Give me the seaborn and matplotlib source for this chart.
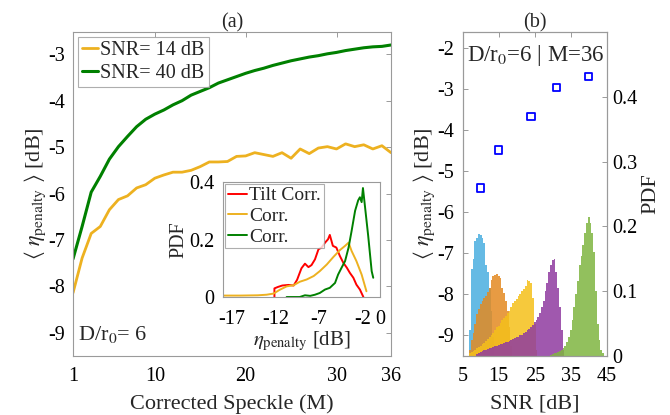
import numpy as np
import pandas as pd
import matplotlib
matplotlib.use("Agg")
import matplotlib.pyplot as plt
import seaborn as sns

# ---------------- data ----------------
M = list(range(1, 37))
eta_snr14 = [-8.14, -7.39, -6.86, -6.71, -6.35, -6.13, -6.05, -5.88, -5.81, -5.67,
             -5.60, -5.54, -5.54, -5.50, -5.42, -5.32, -5.32, -5.31, -5.20, -5.19,
             -5.12, -5.16, -5.20, -5.12, -5.24, -5.04, -5.14, -5.02, -4.99, -5.04,
             -4.93, -4.99, -4.95, -5.04, -4.97, -5.12]
eta_snr40 = [-7.41, -6.71, -5.97, -5.63, -5.26, -4.99, -4.77, -4.56, -4.40, -4.29,
             -4.20, -4.09, -4.00, -3.88, -3.80, -3.72, -3.62, -3.55, -3.48, -3.41,
             -3.35, -3.30, -3.24, -3.19, -3.14, -3.10, -3.06, -3.03, -2.99, -2.96,
             -2.92, -2.89, -2.86, -2.84, -2.83, -2.80]

# inset PDFs
tilt_x = [-12.1, -12.1, -11.7, -11.2, -10.5, -9.9, -9.5, -9.0, -8.6, -8.2, -7.85, -7.45,
          -7.05, -6.7, -6.3, -5.95, -5.75, -5.4, -5.0, -4.6, -4.2, -3.8, -3.45, -3.05,
          -2.7, -2.3, -1.9]
tilt_y = [0.0, 0.03, 0.035, 0.04, 0.042, 0.04, 0.06, 0.10, 0.116, 0.104, 0.111, 0.131,
          0.166, 0.172, 0.189, 0.201, 0.216, 0.178, 0.172, 0.143, 0.119, 0.102, 0.084,
          0.067, 0.043, 0.026, 0.0]
corr14_x = [-18.0, -16.0, -14.0, -13.0, -12.2, -11.5, -10.7, -9.9, -9.2, -8.4, -7.6, -6.9,
            -6.1, -5.35, -4.6, -4.0, -3.6, -3.25, -2.7, -2.1, -1.55]
corr14_y = [0.005, 0.005, 0.006, 0.008, 0.012, 0.025, 0.037, 0.041, 0.053, 0.061, 0.073,
            0.09, 0.113, 0.139, 0.163, 0.178, 0.189, 0.16, 0.125, 0.078, 0.02]
corr40_x = [-10.7, -9.2, -8.6, -8.0, -7.45, -6.9, -6.3, -5.75, -5.15, -4.8, -4.4, -4.0,
            -3.6, -3.25, -2.85, -2.5, -2.3, -2.1, -1.95, -1.75, -1.35, -0.95, -0.77]
corr40_y = [0.0, 0.0, 0.006, 0.004, 0.008, 0.014, 0.026, 0.032, 0.049, 0.078, 0.102, 0.125,
            0.172, 0.23, 0.30, 0.336, 0.347, 0.33, 0.379, 0.324, 0.213, 0.09, 0.067]

# panel (b)
snr_pts = [10, 15, 24, 31, 40]
eta_pts = [-5.40, -4.48, -3.66, -2.96, -2.69]

blue_c = [7.0, 7.5, 8.0, 8.5, 9.0, 9.5, 10.0, 10.5, 11.0, 11.5, 12.0, 12.5, 13.0, 13.5]
blue_h = [0.04, 0.135, 0.15, 0.178, 0.182, 0.188, 0.186, 0.182, 0.175, 0.14, 0.13, 0.105,
          0.07, 0.03]
orange_c = [7.0, 7.5, 8.0, 8.5, 9.0, 9.5, 10.0, 10.5, 11.0, 11.5, 12.0, 12.5, 13.0, 13.5,
            14.0, 14.5, 15.0, 15.5, 16.0, 16.5, 17.0, 17.5, 18.0, 18.5]
orange_h = [0.01, 0.025, 0.035, 0.05, 0.065, 0.072, 0.08, 0.085, 0.09, 0.093, 0.098, 0.105,
            0.117, 0.124, 0.125, 0.126, 0.124, 0.12, 0.105, 0.097, 0.085, 0.07, 0.045, 0.015]
yellow_c = [7.0, 7.5, 8.0, 8.5, 9.0, 9.5, 10.0, 10.5, 11.0, 11.5, 12.0, 12.5, 13.0, 13.5,
            14.0, 14.5, 15.0, 15.5, 16.0, 16.5, 17.0, 17.5, 18.0, 18.5, 19.0, 19.5, 20.0,
            20.5, 21.0, 21.5, 22.0, 22.5, 23.0, 23.5, 24.0, 24.5, 25.0, 25.5]
yellow_h = [0.004, 0.006, 0.008, 0.010, 0.012, 0.014, 0.016, 0.018, 0.020, 0.023, 0.026,
            0.029, 0.033, 0.036, 0.040, 0.044, 0.047, 0.051, 0.055, 0.059, 0.062, 0.066,
            0.070, 0.075, 0.082, 0.085, 0.088, 0.092, 0.096, 0.100, 0.104, 0.108, 0.118,
            0.115, 0.112, 0.090, 0.050, 0.010]
purple_c = [9.0, 9.5, 10.0, 10.5, 11.0, 11.5, 12.0, 12.5, 13.0, 13.5, 14.0, 14.5, 15.0,
            15.5, 16.0, 16.5, 17.0, 17.5, 18.0, 18.5, 19.0, 19.5, 20.0, 20.5, 21.0, 21.5,
            22.0, 22.5, 23.0, 23.5, 24.0, 24.5, 25.0, 25.5, 26.0, 26.5, 27.0, 27.5, 28.0,
            28.5, 29.0, 29.5, 30.0, 30.5, 31.0, 31.5, 32.0, 32.5, 33.0]
purple_h = [0.003, 0.004, 0.006, 0.007, 0.009, 0.010, 0.011, 0.012, 0.013, 0.014, 0.015,
            0.016, 0.017, 0.018, 0.019, 0.020, 0.021, 0.022, 0.023, 0.024, 0.026, 0.027,
            0.029, 0.030, 0.032, 0.033, 0.035, 0.037, 0.040, 0.042, 0.045, 0.048, 0.052,
            0.056, 0.060, 0.066, 0.075, 0.085, 0.100, 0.113, 0.130, 0.140, 0.148, 0.150,
            0.130, 0.105, 0.075, 0.040, 0.010]
green_c = [29.5, 30.0, 30.5, 31.0, 31.5, 32.0, 32.5, 33.0, 33.5, 34.0, 34.5, 35.0, 35.5,
           36.0, 36.5, 37.0, 37.5, 38.0, 38.5, 39.0, 39.5, 40.0, 40.5, 41.0, 41.5, 42.0,
           42.5, 43.0, 43.5, 44.0]
green_h = [0.002, 0.003, 0.004, 0.005, 0.006, 0.008, 0.010, 0.013, 0.016, 0.022, 0.030,
           0.040, 0.055, 0.075, 0.095, 0.115, 0.140, 0.155, 0.172, 0.190, 0.205, 0.215,
           0.205, 0.190, 0.160, 0.100, 0.050, 0.025, 0.010, 0.004]

# ---------------- style ----------------
sns.set_theme(style="white")
plt.rcParams['font.family'] = ['Liberation Serif', 'DejaVu Serif']
plt.rcParams['mathtext.fontset'] = 'stix'
FS = 14.5
SPINE = '#9a9a9a'
YEL = '#EDB120'
GRN = '#008000'

fig = plt.figure(figsize=(6.7, 4.15), dpi=100)

def style_axes(ax, top=True, right=True):
    for s in ax.spines.values():
        s.set_color(SPINE)
        s.set_linewidth(0.8)
    ax.tick_params(direction='in', length=3.5, width=0.7, color=SPINE,
                   labelsize=FS, labelcolor='black', top=top, right=right)
    ax.tick_params(axis='x', pad=8)
    ax.tick_params(axis='y', pad=6)

# ---------------- panel (a) ----------------
axA = fig.add_axes([0.109, 0.1422, 0.4746, 0.7807])
sns.lineplot(x=M, y=eta_snr14, ax=axA, color=YEL, lw=2.0, label='SNR= 14 dB')
sns.lineplot(x=M, y=eta_snr40, ax=axA, color=GRN, lw=2.2, label='SNR= 40 dB')
axA.set_xlim(1, 36)
axA.set_ylim(-9.5, -2.52)
axA.set_xticks([1, 10, 20, 30, 36])
axA.set_yticks([-9, -8, -7, -6, -5, -4, -3])
axA.set_yticklabels(['-9', '-8', '-7', '-6', '-5', '-4', '-3'])
style_axes(axA)
axA.set_xlabel('Corrected Speckle (M)', fontsize=FS + 1.5, labelpad=6)
axA.set_ylabel(r'$\langle\ \eta_{\mathrm{penalty}}\ \rangle$ [dB]', fontsize=FS + 1.5,
               labelpad=0)
axA.set_title('(a)', fontsize=FS, pad=3)
leg = axA.legend(loc='upper left', fontsize=FS, frameon=True, fancybox=False,
                 edgecolor=SPINE, handlelength=0.8, handletextpad=0.1,
                 borderpad=0.2, labelspacing=0.2, borderaxespad=0.25)
leg.get_frame().set_linewidth(0.8)
axA.text(0.015, 0.035, r'D/r$_0$= 6', transform=axA.transAxes, fontsize=FS + 1.5,
         ha='left', va='bottom')

# inset
axI = fig.add_axes([0.3328, 0.2843, 0.2343, 0.2771])
sns.lineplot(x=tilt_x, y=tilt_y, ax=axI, color='red', lw=1.4, estimator=None, sort=False,
             label='Tilt Corr.')
sns.lineplot(x=corr14_x, y=corr14_y, ax=axI, color=YEL, lw=1.4, estimator=None, sort=False,
             label='Corr.')
sns.lineplot(x=corr40_x, y=corr40_y, ax=axI, color=GRN, lw=1.4, estimator=None, sort=False,
             label='Corr.')
axI.set_xlim(-18, 0)
axI.set_ylim(0, 0.4)
axI.set_xticks([-17, -12, -7, -2, 0])
axI.set_xticklabels(['-17', '-12', '-7', '-2', '0'])
axI.set_yticks([0, 0.2, 0.4])
axI.set_yticklabels(['0', '0.2', '0.4'])
style_axes(axI, top=False, right=False)
axI.tick_params(length=0)
axI.tick_params(axis='x', pad=9)
axI.tick_params(axis='y', pad=6)
axI.set_ylabel('PDF', fontsize=FS, labelpad=1)
axI.set_xlabel(r'$\eta_{\mathrm{penalty}}$ [dB]', fontsize=FS + 0.5, labelpad=1)
legI = axI.legend(loc='upper left', fontsize=FS - 0.5, frameon=True, fancybox=False,
                  edgecolor=SPINE, handlelength=1.0, handletextpad=0.1,
                  borderpad=0.15, labelspacing=0.15, borderaxespad=0.1)
legI.get_frame().set_linewidth(0.8)

# ---------------- panel (b) ----------------
axB = fig.add_axes([0.6906, 0.1422, 0.2149, 0.7807])
axB2 = axB.twinx()
hists = [(blue_c, blue_h, '#4AAEE0'), (orange_c, orange_h, '#E38A22'),
         (yellow_c, yellow_h, '#F5C01A'), (purple_c, purple_h, '#8F3BA0'),
         (green_c, green_h, '#7FB540')]
for cen, h, col in hists:
    sns.histplot(x=cen, weights=h, binwidth=0.5,
                 binrange=(cen[0] - 0.25, cen[-1] + 0.25), ax=axB2, color=col,
                 alpha=0.85, linewidth=0, stat='count', element='bars')
sns.scatterplot(x=snr_pts, y=eta_pts, ax=axB, marker='s', s=28, facecolor='none',
                edgecolor='blue', linewidth=1.3, zorder=5)
axB.set_zorder(axB2.get_zorder() + 1)
axB.patch.set_visible(False)

axB.set_xlim(5, 45)
axB.set_xticks([5, 15, 25, 35, 45])
axB.set_ylim(-9.5, -1.6)
axB.set_yticks([-9, -8, -7, -6, -5, -4, -3, -2])
axB.set_yticklabels(['-9', '-8', '-7', '-6', '-5', '-4', '-3', '-2'])
axB2.set_ylim(0, 0.5)
axB2.set_yticks([0, 0.1, 0.2, 0.3, 0.4])
axB2.set_yticklabels(['0', '0.1', '0.2', '0.3', '0.4'])
style_axes(axB, top=True, right=False)
style_axes(axB2, top=False, right=True)
axB2.tick_params(left=False)
axB2.tick_params(axis='y', pad=4)
axB.set_xlabel('SNR [dB]', fontsize=FS + 1.5, labelpad=6)
axB.set_ylabel(r'$\langle\ \eta_{\mathrm{penalty}}\ \rangle$ [dB]', fontsize=FS + 1.5,
               labelpad=0)
axB2.set_ylabel('PDF', fontsize=FS + 1.5, labelpad=3)
axB.set_title('(b)', fontsize=FS, pad=3)
axB.text(0.03, 0.965, r'D/r$_0$=6 | M=36', transform=axB.transAxes, fontsize=FS + 2,
         ha='left', va='top')

fig.savefig('out.png', dpi=100)
